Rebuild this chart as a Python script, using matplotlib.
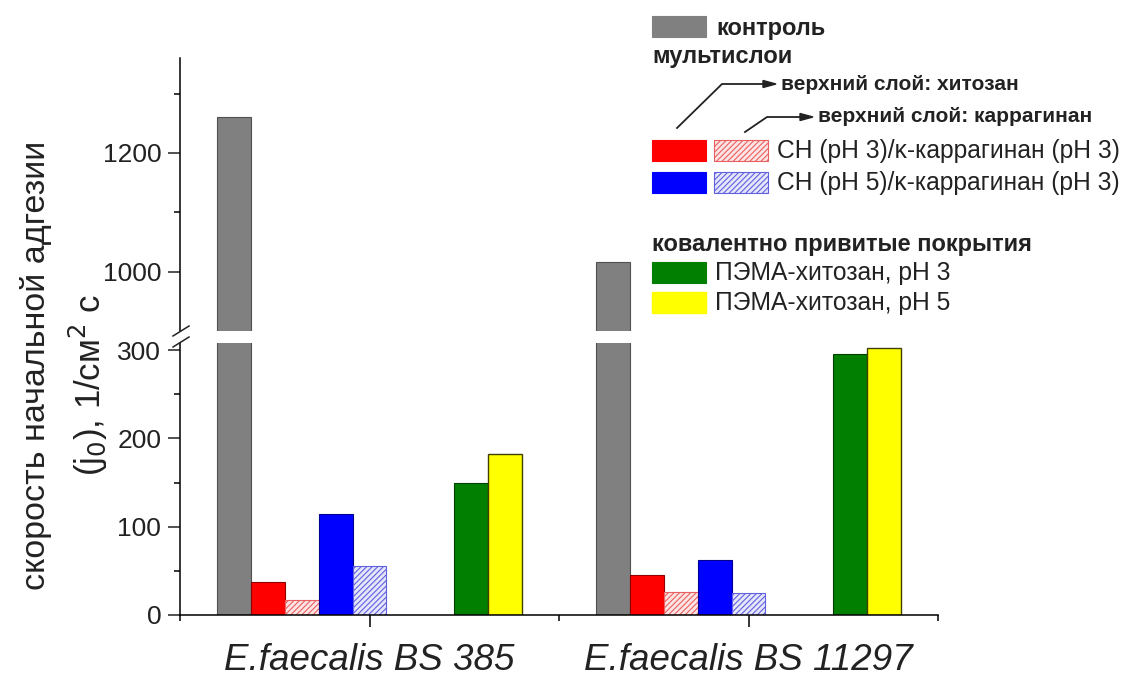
import numpy as np
import matplotlib
matplotlib.use("Agg")
import matplotlib.pyplot as plt
from matplotlib.patches import Rectangle
from matplotlib.lines import Line2D
from matplotlib.ticker import FixedLocator

plt.rcParams['font.family'] = ['Liberation Sans', 'DejaVu Sans']
plt.rcParams['hatch.linewidth'] = 0.8

# ---------------- data ----------------
categories = ['E.faecalis BS 385', 'E.faecalis BS 11297']
control = [1260, 1017]
ch3_chitosan_top = [37, 45]
ch3_carrageenan_top = [17, 26]
ch5_chitosan_top = [114, 62]
ch5_carrageenan_top = [56, 25]
pema_ph3 = [149, 296]
pema_ph5 = [182, 302]

W, H = 1123, 682
fig = plt.figure(figsize=(W / 100, H / 100), dpi=100)

def fx(x):
    return x / W

def fy(y):
    return 1 - y / H

left = fx(180)
width = fx(938) - fx(180)
ax_bot = fig.add_axes([left, fy(615), width, fy(343) - fy(615)])
ax_top = fig.add_axes([left, fy(331), width, fy(58) - fy(331)])

groups = np.arange(1, len(categories) + 1)
w = 0.0895

gray = dict(color='#808080', edgecolor='#505050', linewidth=0.8)
styles = [
    (ch3_chitosan_top, -3, dict(color='#ff0000', edgecolor='#900000', linewidth=0.8)),
    (ch3_carrageenan_top, -2, dict(facecolor='#fde4e4', edgecolor='#e86060', hatch='//////', linewidth=0.8)),
    (ch5_chitosan_top, -1, dict(color='#0000ff', edgecolor='#000090', linewidth=0.8)),
    (ch5_carrageenan_top, 0, dict(facecolor='#e6e6fb', edgecolor='#6060e0', hatch='//////', linewidth=0.8)),
    (pema_ph3, 3, dict(color='#007f00', edgecolor='#004000', linewidth=0.8)),
    (pema_ph5, 4, dict(color='#ffff00', edgecolor='#404000', linewidth=1.0)),
]

for ax in (ax_bot, ax_top):
    ax.bar(groups - 4 * w, control, width=w, **gray)
for vals, off, st in styles:
    ax_bot.bar(groups + off * w, vals, width=w, **st)

ax_bot.set_ylim(0, 308)
ax_top.set_ylim(900, 1360)
for ax in (ax_bot, ax_top):
    ax.set_xlim(0.5, 2.5)
    ax.spines['top'].set_visible(False)
    ax.spines['right'].set_visible(False)
    ax.spines['left'].set_linewidth(1.1)
    ax.spines['bottom'].set_linewidth(1.1)
    ax.tick_params(axis='y', which='major', length=8.5, width=1.1, pad=5, labelsize=19, colors='#222222')
    ax.tick_params(axis='y', which='minor', length=4.5, width=1.1)
ax_top.spines['bottom'].set_visible(False)
ax_top.set_xticks([])
ax_top.tick_params(axis='x', which='both', bottom=False, labelbottom=False)

ax_bot.yaxis.set_major_locator(FixedLocator([0, 100, 200, 300]))
ax_bot.yaxis.set_minor_locator(FixedLocator([50, 150, 250]))
ax_top.yaxis.set_major_locator(FixedLocator([1000, 1200]))
ax_top.yaxis.set_minor_locator(FixedLocator([1100, 1300]))

ax_bot.set_xticks(groups)
ax_bot.set_xticklabels(categories, fontsize=26.5, style='italic', color='#222222')
ax_bot.xaxis.set_minor_locator(FixedLocator([0.5, 1.5, 2.5]))
ax_bot.tick_params(axis='x', which='major', length=8.5, width=1.1, pad=12)
ax_bot.tick_params(axis='x', which='minor', length=4.5, width=1.1)

# break marks on y axis
for yc in (331, 342):
    fig.add_artist(Line2D([fx(173), fx(189)], [fy(yc + 5), fy(yc - 5)],
                          transform=fig.transFigure, color='#222222', lw=1.1))

# y-axis label (two lines)
fig.text(fx(36), fy(365), 'скорость начальной адгезии', rotation=90,
         ha='center', va='center', fontsize=24.5, color='#222222')
fig.text(fx(88), fy(385), r'(j$_0$), 1/см$^2$ с', rotation=90,
         ha='center', va='center', fontsize=25, color='#222222')

# ---------------- custom legend ----------------
def patch(x0, x1, y0, y1, **kw):
    fig.add_artist(Rectangle((fx(x0), fy(y1)), fx(x1) - fx(x0), fy(y0) - fy(y1),
                             transform=fig.transFigure, **kw))

bold = dict(fontweight='bold', va='center', color='#222222')
patch(652, 706, 16, 37, **gray)
fig.text(fx(716), fy(28), 'контроль', fontsize=17, **bold)
fig.text(fx(652), fy(57), 'мультислои', fontsize=17, **bold)

fig.text(fx(781), fy(84), 'верхний слой: хитозан', fontsize=15, **bold)
fig.text(fx(818), fy(117), 'верхний слой: каррагинан', fontsize=15, **bold)
fig.add_artist(Line2D([fx(677), fx(722), fx(765)], [fy(128), fy(84), fy(84)],
                      transform=fig.transFigure, color='#222222', lw=1.3))
fig.add_artist(Line2D([fx(745), fx(767), fx(803)], [fy(132), fy(117), fy(117)],
                      transform=fig.transFigure, color='#222222', lw=1.3))
for xe, ye in ((776, 84), (813, 117)):
    fig.add_artist(plt.Polygon([[fx(xe), fy(ye)], [fx(xe - 13), fy(ye - 3.5)], [fx(xe - 13), fy(ye + 3.5)]],
                               closed=True, transform=fig.transFigure, color='#222222'))

patch(652, 706, 140, 161, **styles[0][2])
patch(714, 768, 140, 161, **styles[1][2])
fig.text(fx(777), fy(151), 'CH (pH 3)/κ-каррагинан (pH 3)', fontsize=17.7, va='center', color='#222222')
patch(652, 706, 172, 193, **styles[2][2])
patch(714, 768, 172, 193, **styles[3][2])
fig.text(fx(777), fy(183), 'CH (pH 5)/κ-каррагинан (pH 3)', fontsize=17.7, va='center', color='#222222')

fig.text(fx(652), fy(245), 'ковалентно привитые покрытия', fontsize=17, **bold)
patch(652, 706, 262, 283, **styles[4][2])
fig.text(fx(715), fy(273), 'ПЭМА-хитозан, pH 3', fontsize=17.7, va='center', color='#222222')
patch(652, 706, 292, 313, **styles[5][2])
fig.text(fx(715), fy(303), 'ПЭМА-хитозан, pH 5', fontsize=17.7, va='center', color='#222222')

fig.savefig('out.png', dpi=100)
